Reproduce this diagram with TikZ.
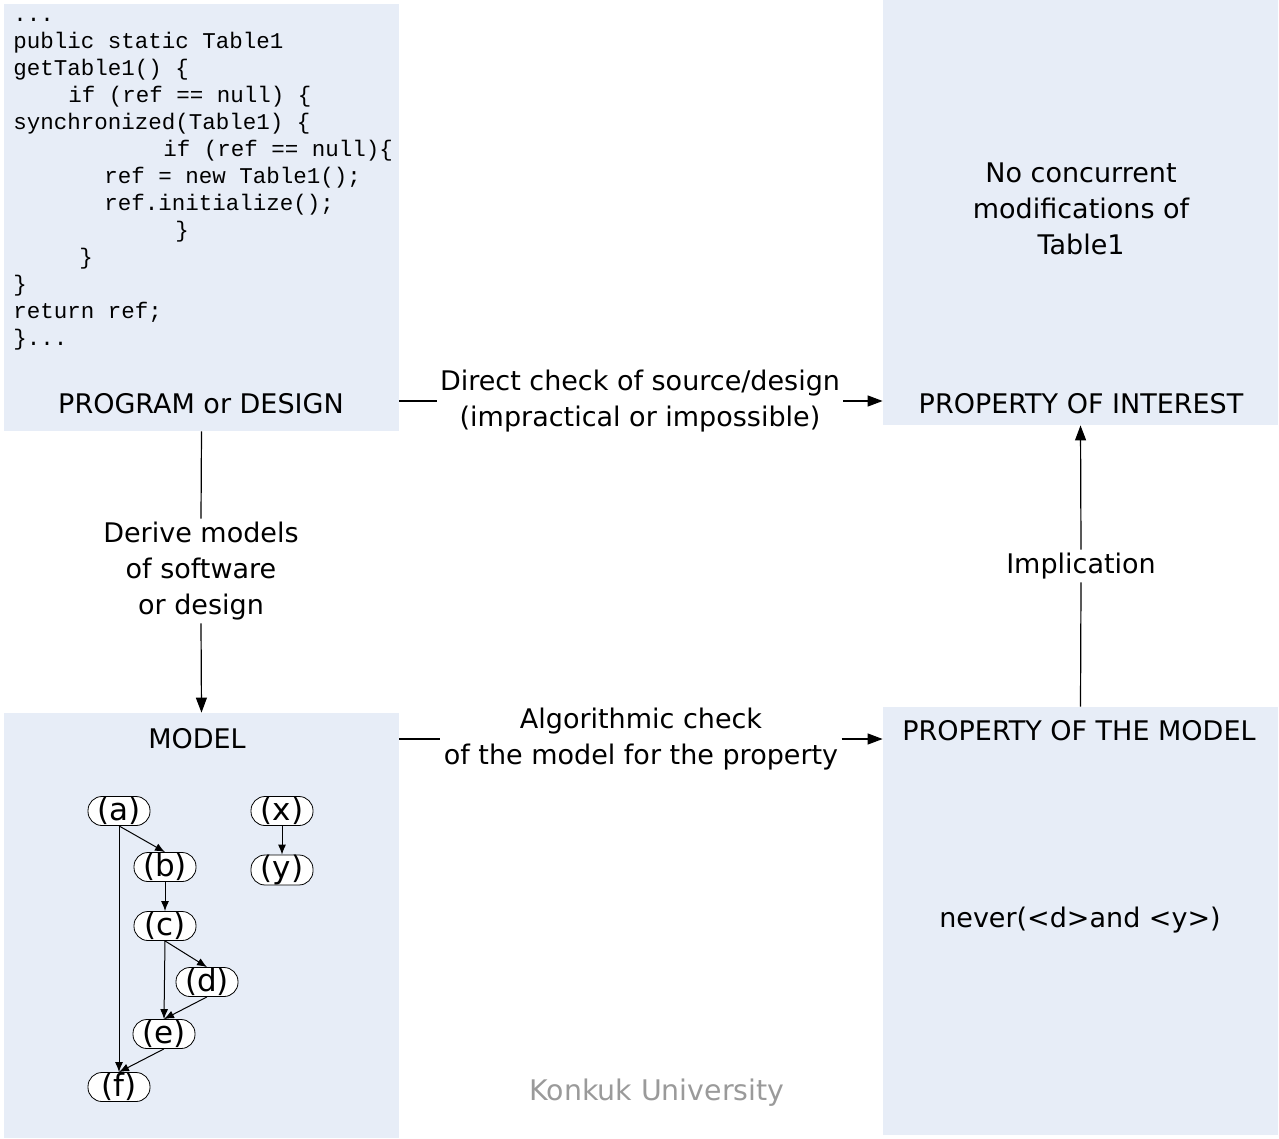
\documentclass[tikz,border=0pt]{standalone}
\usepackage{fontspec}
\setmainfont{DejaVu Sans}
\setmonofont{Liberation Mono}
\usepackage{tikz}
\usetikzlibrary{positioning,arrows.meta,calc}
\definecolor{panelbg}{HTML}{E7EDF7}
\definecolor{ink}{HTML}{000000}
\definecolor{muted}{HTML}{9A9A9A}
\newcommand{\bigtxt}{\fontsize{13.5pt}{18pt}\selectfont}
\newcommand{\codetxt}{\ttfamily\fontsize{11.25pt}{13.5pt}\selectfont}

\begin{document}
\begin{tikzpicture}[x=0.5pt,y=-0.5pt,
  font=\bigtxt,
  panel/.style={fill=panelbg,inner sep=0pt,minimum width=197.5pt},
  ttl/.style={inner sep=0pt,align=center},
  lbl/.style={align=center,inner sep=1.5pt},
  arr/.style={-{Triangle[length=7.5pt,width=5.5pt]},line width=0.6pt,draw=ink},
  st/.style={draw=ink,fill=white,rounded corners=7pt,minimum width=31pt,minimum height=14.5pt,inner sep=0pt,font=\fontsize{15.5pt}{16pt}\selectfont},
  tr/.style={-{Latex[length=5pt,width=4pt]},line width=0.5pt,draw=ink}]
  \useasboundingbox (0,0) rectangle (1279,1139);
  % panels
  \node[panel,minimum height=213.5pt] (prog) at (201.5,217.5) {};
  \node[panel,minimum height=212.5pt] (interest) at (1080.5,212.5) {};
  \node[panel,minimum height=212.5pt] (model) at (201.5,925.5) {};
  \node[panel,minimum height=214pt] (pmodel) at (1080.5,921) {};
  % source code
  \node[anchor=base west,inner sep=0pt,align=left,font=\codetxt] (code) at (13,345) {%
    ...\\
    public static Table1\\
    getTable1() \{\\
    \hspace*{27.5pt}if (ref == null) \{\\
    synchronized(Table1) \{\\
    \hspace*{75pt}if (ref == null)\{\\
    \hspace*{45.5pt}ref = new Table1();\\
    \hspace*{45.5pt}ref.initialize();\\
    \hspace*{81pt}\}\\
    \hspace*{33pt}\}\\
    \}\\
    return ref;\\
    \}...};
  % titles and texts
  \node[ttl] (ptitle) at (201,404) {PROGRAM or DESIGN};
  \node[ttl] (ititle) at (1081,404) {PROPERTY OF INTEREST};
  \node[ttl] (claim) at (1081,209) {No concurrent\\modifications of\\Table1};
  \node[ttl] (mtitle) at (197,739) {MODEL};
  \node[ttl] (pmtitle) at (1079,731) {PROPERTY OF THE MODEL};
  \node[ttl] (never) at (1080,920) {never(<d>and <y>)};
  \node[ttl,text=muted,font=\fontsize{14.2pt}{18pt}\selectfont] (uni) at (657,1093) {Konkuk University};
  % connectors between panels
  \node[lbl] (direct) at (640,401) {Direct check of source/design\\(impractical or impossible)};
  \draw[line width=0.6pt] (direct.west -| prog.east) -- (direct.west);
  \draw[arr] (direct.east) -- (direct.east -| interest.west);
  \node[lbl] (algo) at (641,739) {Algorithmic check\\of the model for the property};
  \draw[line width=0.6pt] (algo.west -| model.east) -- (algo.west);
  \draw[arr] (algo.east) -- (algo.east -| pmodel.west);
  \node[lbl] (derive) at (201,571) {Derive models\\of software\\or design};
  \draw[line width=0.6pt] (prog.south) -- (derive.north);
  \draw[arr] (derive.south) -- (model.north);
  \node[lbl] (impl) at (1081,566) {Implication};
  \draw[line width=0.6pt] (pmodel.north) -- (impl.south);
  \draw[arr] (impl.north) -- (interest.south);
  % model graph
  \node[st] (a) at (119,811) {(a)};
  \node[st] (b) at (165,867) {(b)};
  \node[st] (c) at (165,926) {(c)};
  \node[st] (d) at (207,982) {(d)};
  \node[st] (e) at (164,1034) {(e)};
  \node[st] (f) at (119,1087) {(f)};
  \node[st] (x) at (282,811) {(x)};
  \node[st] (y) at (282,870) {(y)};
  \draw[tr] (a.south) -- (b.north);
  \draw[tr] (a.south) -- (f.north);
  \draw[tr] (b.south) -- (c.north);
  \draw[tr] (c.south) -- (d.north);
  \draw[tr] (c.south) -- (e.north);
  \draw[tr] (d.south) -- (e.north);
  \draw[tr] (e.south) -- (f.north);
  \draw[tr] (x.south) -- (y.north);
\end{tikzpicture}
\end{document}
